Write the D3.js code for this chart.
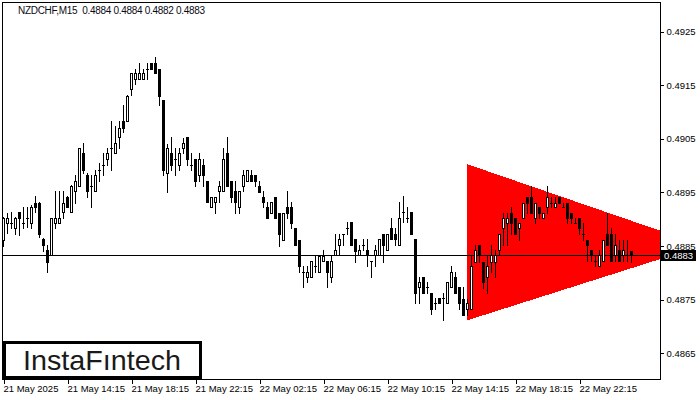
<!DOCTYPE html>
<html>
<head>
<meta charset="utf-8">
<script src="https://cdn.jsdelivr.net/npm/d3@7"></script>
<style>
  html, body { margin: 0; padding: 0; background: #fff; }
  svg { display: block; }
  text { font-family: "Liberation Sans", Arial, sans-serif; }
</style>
</head>
<body>
<svg id="chart" width="700" height="400"></svg>
<script>
// ---------- data ----------
const symbolTitle = "NZDCHF,M15  0.4884 0.4884 0.4882 0.4883";
const lastPriceLabel = "0.4883";
const lastBid = 0.48832;

const opens = [
0.48860,0.48891,0.48891,0.48882,0.48912,0.48891,0.48901,0.48891,0.48930,0.48930,
0.48862,0.48842,0.48832,0.48891,0.48891,0.48912,0.48941,0.48912,0.48952,0.48961,
0.49022,0.48981,0.48961,0.48952,0.48991,0.49001,0.49011,0.49031,0.49022,0.49052,
0.49082,0.49082,0.49141,0.49160,0.49160,0.49160,0.49180,0.49191,0.49191,0.49180,
0.49121,0.48986,0.49022,0.49011,0.49001,0.49031,0.49053,0.49001,0.49011,0.48982,
0.49001,0.48970,0.48921,0.48931,0.48952,0.48952,0.49022,0.48970,0.48952,0.48921,
0.48961,0.48970,0.48982,0.48982,0.48961,0.48941,0.48921,0.48911,0.48941,0.48911,
0.48861,0.48921,0.48921,0.48882,0.48861,0.48801,0.48791,0.48791,0.48811,0.48801,
0.48821,0.48821,0.48791,0.48832,0.48851,0.48872,0.48882,0.48893,0.48862,0.48832,
0.48851,0.48842,0.48821,0.48832,0.48832,0.48872,0.48842,0.48882,0.48872,0.48851,
0.48912,0.48902,0.48912,0.48862,0.48772,0.48791,0.48772,0.48761,0.48742,0.48752,
0.48752,0.48742,0.48772,0.48791,0.48772,0.48751,0.48731,0.48731,0.48820,0.48851,
0.48820,0.48791,0.48820,0.48820,0.48842,0.48882,0.48891,0.48911,0.48901,0.48882,
0.48901,0.48941,0.48941,0.48901,0.48921,0.48901,0.48921,0.48930,0.48921,0.48941,
0.48921,0.48930,0.48911,0.48891,0.48901,0.48871,0.48861,0.48842,0.48821,0.48811,
0.48821,0.48871,0.48871,0.48832,0.48842,0.48832,0.48832,0.48840];

const highs = [
0.48904,0.48910,0.48912,0.48904,0.48912,0.48922,0.48922,0.48925,0.48943,0.48932,
0.48863,0.48851,0.48901,0.48952,0.48952,0.48952,0.48943,0.48963,0.48981,0.49031,
0.49041,0.48985,0.48981,0.48991,0.49003,0.49022,0.49031,0.49082,0.49072,0.49082,
0.49112,0.49131,0.49171,0.49180,0.49191,0.49180,0.49191,0.49191,0.49202,0.49180,
0.49121,0.49039,0.49053,0.49031,0.49031,0.49050,0.49053,0.49022,0.49011,0.49022,
0.49011,0.48970,0.48941,0.48941,0.48970,0.49031,0.49053,0.48970,0.48970,0.48952,
0.48991,0.48991,0.48991,0.48982,0.48970,0.48952,0.48931,0.48931,0.48941,0.48911,
0.48911,0.48952,0.48931,0.48882,0.48861,0.48811,0.48811,0.48821,0.48830,0.48830,
0.48842,0.48821,0.48832,0.48872,0.48872,0.48872,0.48893,0.48893,0.48862,0.48851,
0.48862,0.48862,0.48821,0.48851,0.48862,0.48872,0.48872,0.48901,0.48882,0.48932,
0.48942,0.48922,0.48912,0.48862,0.48792,0.48791,0.48781,0.48761,0.48752,0.48752,
0.48762,0.48781,0.48812,0.48801,0.48772,0.48772,0.48751,0.48832,0.48851,0.48851,
0.48820,0.48832,0.48851,0.48842,0.48871,0.48911,0.48911,0.48921,0.48901,0.48891,
0.48930,0.48941,0.48961,0.48930,0.48921,0.48911,0.48961,0.48941,0.48941,0.48941,
0.48930,0.48930,0.48911,0.48901,0.48901,0.48891,0.48861,0.48842,0.48832,0.48842,
0.48861,0.48911,0.48882,0.48871,0.48861,0.48861,0.48861,0.48840];

const lows = [
0.48849,0.48873,0.48882,0.48871,0.48870,0.48882,0.48885,0.48882,0.48912,0.48865,
0.48840,0.48801,0.48832,0.48882,0.48891,0.48901,0.48921,0.48912,0.48930,0.48961,
0.48985,0.48941,0.48921,0.48952,0.48971,0.48981,0.49000,0.48991,0.49022,0.49031,
0.49061,0.49082,0.49131,0.49151,0.49160,0.49160,0.49160,0.49180,0.49171,0.49112,
0.48981,0.48950,0.48991,0.48982,0.48991,0.49022,0.49001,0.48991,0.48960,0.48970,
0.48960,0.48931,0.48921,0.48911,0.48931,0.48952,0.48961,0.48931,0.48911,0.48911,
0.48952,0.48970,0.48970,0.48961,0.48950,0.48921,0.48901,0.48911,0.48901,0.48849,
0.48861,0.48901,0.48882,0.48851,0.48801,0.48773,0.48781,0.48791,0.48801,0.48801,
0.48821,0.48773,0.48781,0.48832,0.48832,0.48851,0.48872,0.48851,0.48820,0.48832,
0.48842,0.48812,0.48791,0.48812,0.48832,0.48820,0.48842,0.48862,0.48851,0.48851,
0.48893,0.48893,0.48872,0.48743,0.48743,0.48761,0.48762,0.48722,0.48731,0.48742,
0.48711,0.48742,0.48772,0.48761,0.48731,0.48720,0.48720,0.48731,0.48820,0.48820,
0.48770,0.48761,0.48801,0.48791,0.48832,0.48851,0.48851,0.48871,0.48871,0.48861,
0.48901,0.48911,0.48911,0.48891,0.48901,0.48901,0.48911,0.48921,0.48921,0.48930,
0.48921,0.48891,0.48891,0.48891,0.48871,0.48861,0.48821,0.48821,0.48811,0.48811,
0.48821,0.48851,0.48821,0.48821,0.48821,0.48821,0.48821,0.48820];

const closes = [
0.48901,0.48901,0.48891,0.48901,0.48901,0.48891,0.48901,0.48921,0.48921,0.48871,
0.48850,0.48820,0.48901,0.48901,0.48901,0.48930,0.48921,0.48961,0.48971,0.49031,
0.48991,0.48952,0.48961,0.48981,0.48991,0.49001,0.49022,0.49031,0.49041,0.49070,
0.49070,0.49129,0.49171,0.49171,0.49171,0.49171,0.49180,0.49180,0.49171,0.49129,
0.48991,0.49031,0.49001,0.49011,0.49022,0.49041,0.49011,0.49001,0.48970,0.49011,
0.48982,0.48931,0.48941,0.48941,0.48961,0.49011,0.48961,0.48941,0.48931,0.48952,
0.48982,0.48991,0.48970,0.48970,0.48950,0.48931,0.48901,0.48931,0.48901,0.48871,
0.48911,0.48911,0.48891,0.48851,0.48811,0.48801,0.48801,0.48821,0.48811,0.48830,
0.48830,0.48801,0.48821,0.48842,0.48862,0.48872,0.48882,0.48851,0.48840,0.48842,
0.48851,0.48832,0.48821,0.48842,0.48862,0.48851,0.48872,0.48862,0.48862,0.48901,
0.48912,0.48902,0.48872,0.48761,0.48781,0.48761,0.48772,0.48731,0.48742,0.48742,
0.48752,0.48781,0.48801,0.48761,0.48742,0.48720,0.48742,0.48811,0.48842,0.48832,
0.48781,0.48811,0.48832,0.48832,0.48871,0.48901,0.48901,0.48891,0.48871,0.48891,
0.48930,0.48930,0.48911,0.48930,0.48911,0.48911,0.48941,0.48930,0.48930,0.48930,
0.48921,0.48901,0.48901,0.48891,0.48882,0.48871,0.48851,0.48832,0.48821,0.48832,
0.48861,0.48851,0.48821,0.48851,0.48821,0.48842,0.48832,0.48832];

// x-axis ticks (bar index) and labels
const xTickIndex = [0, 16, 32, 48, 64, 80, 96, 112, 128, 144];
const xTickLabels = ["21 May 2025","21 May 14:15","21 May 18:15","21 May 22:15","22 May 02:15",
                     "22 May 06:15","22 May 10:15","22 May 14:15","22 May 18:15","22 May 22:15"];
// y-axis ticks
const yTicks = [0.4865, 0.4875, 0.4885, 0.4895, 0.4905, 0.4915, 0.4925];

// triangle pattern: vertices (bar index, price)
const triIndex = [115.9, 115.9, 175];
const triPrice = [0.49002, 0.48710, 0.48850];

const logoText = "InstaF\u0131ntech";

// ---------- layout ----------
const L = 2, T = 2, R = 660, B = 379;
const svg = d3.select("#chart");
svg.append("rect").attr("width", 700).attr("height", 400).attr("fill", "#fff");

const x = d3.scaleLinear().domain([0, 164]).range([3, 659]);
const y = d3.scaleLinear().domain([0.4865, 0.4925]).range([352.7, 31]);

svg.append("defs").append("clipPath").attr("id", "plotclip")
  .append("rect").attr("x", L).attr("y", T).attr("width", R - L).attr("height", B - T);

const plot = svg.append("g").attr("clip-path", "url(#plotclip)");

// triangle
const triPts = triIndex.map((d, k) => [x(d), y(triPrice[k])]);
plot.append("polygon")
  .attr("points", triPts.map(p => p.join(",")).join(" "))
  .attr("fill", "#ff0000")
  .attr("shape-rendering", "crispEdges");

// bid line
const by = Math.round(y(lastBid));
plot.append("line")
  .attr("x1", L).attr("x2", R).attr("y1", by + 0.5).attr("y2", by + 0.5)
  .attr("stroke", "#000").attr("stroke-width", 1);

// candles
const candles = plot.append("g").attr("shape-rendering", "crispEdges");
opens.forEach((o, i) => {
  const c = closes[i], h = highs[i], l = lows[i];
  const cx = Math.round(x(i));
  const yh = Math.round(y(h)), yl = Math.round(y(l));
  const yt = Math.round(y(Math.max(o, c))), yb = Math.round(y(Math.min(o, c)));
  candles.append("line")
    .attr("x1", cx + 0.5).attr("x2", cx + 0.5)
    .attr("y1", yh).attr("y2", yl + 1)
    .attr("stroke", "#000").attr("stroke-width", 1);
  if (yb - yt < 1) {
    candles.append("line")
      .attr("x1", cx - 1).attr("x2", cx + 2)
      .attr("y1", yt + 0.5).attr("y2", yt + 0.5)
      .attr("stroke", "#000").attr("stroke-width", 1);
  } else if (c > o) {
    candles.append("rect")
      .attr("x", cx - 0.5).attr("y", yt + 0.5)
      .attr("width", 2).attr("height", yb - yt)
      .attr("fill", "#fff").attr("stroke", "#000").attr("stroke-width", 1);
  } else {
    candles.append("rect")
      .attr("x", cx - 1).attr("y", yt)
      .attr("width", 3).attr("height", yb - yt + 1)
      .attr("fill", "#000");
  }
});

// frame
svg.append("rect")
  .attr("x", L + 0.5).attr("y", T + 0.5)
  .attr("width", R - L).attr("height", B - T)
  .attr("fill", "none").attr("stroke", "#000").attr("stroke-width", 1)
  .attr("shape-rendering", "crispEdges");

// y axis (right)
const yAxis = svg.append("g")
  .attr("transform", `translate(${R + 0.5},0.5)`)
  .call(d3.axisRight(y).tickValues(yTicks).tickFormat(d3.format(".4f")).tickSize(3).tickPadding(3));
yAxis.select(".domain").remove();
yAxis.selectAll("line").attr("stroke", "#000").attr("shape-rendering", "crispEdges");
yAxis.selectAll("text").attr("font-size", "9.5px").attr("fill", "#000")
  .attr("font-family", "'Liberation Sans', Arial, sans-serif");

// x axis (bottom)
const xAxis = svg.append("g")
  .attr("transform", `translate(0.5,${B + 0.5})`)
  .call(d3.axisBottom(x).tickValues(xTickIndex).tickFormat((d, k) => xTickLabels[k]).tickSize(4).tickPadding(2));
xAxis.select(".domain").remove();
xAxis.selectAll("line").attr("stroke", "#000").attr("shape-rendering", "crispEdges");
xAxis.selectAll("text").attr("font-size", "9.5px").attr("fill", "#000")
  .attr("text-anchor", "start").attr("dx", "-0.5")
  .attr("font-family", "'Liberation Sans', Arial, sans-serif");

// last price box
const pb = svg.append("g");
pb.append("rect").attr("x", 661).attr("y", by - 5).attr("width", 35).attr("height", 11).attr("fill", "#000");
pb.append("text").attr("x", 664).attr("y", by + 4).attr("font-size", "9.5px").attr("fill", "#fff")
  .text(lastPriceLabel);

// title
svg.append("text").attr("x", 18).attr("y", 14)
  .attr("font-size", "10px").attr("fill", "#0a0a14")
  .style("white-space", "pre")
  .attr("textLength", 187).attr("lengthAdjust", "spacing")
  .text(symbolTitle);

// logo
const lg = svg.append("g");
lg.append("rect").attr("x", 4.5).attr("y", 342.5).attr("width", 196).attr("height", 35)
  .attr("fill", "#fff").attr("stroke", "#000").attr("stroke-width", 3);
lg.append("text").attr("x", 23).attr("y", 370)
  .attr("font-family", "Inter, 'Open Sans', sans-serif").attr("font-weight", 400)
  .attr("font-size", "28px").attr("fill", "#1a1a1a")
  .attr("textLength", 158).attr("lengthAdjust", "spacingAndGlyphs")
  .text(logoText);
</script>
</body>
</html>
